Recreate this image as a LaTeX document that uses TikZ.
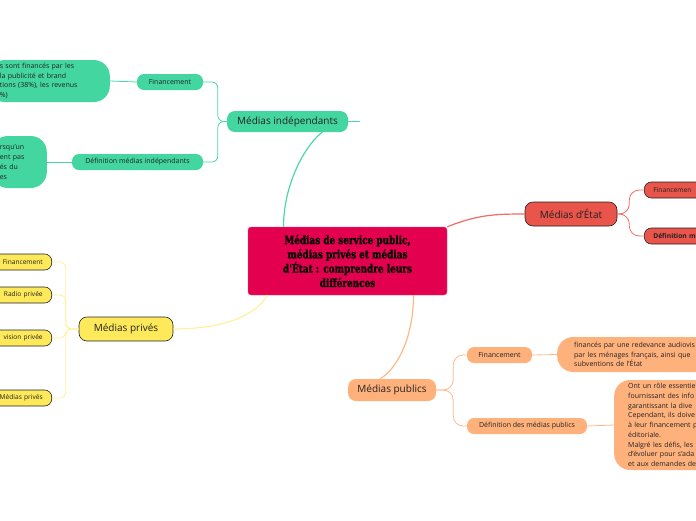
\documentclass[tikz,border=0pt]{standalone}
\usepackage{fontspec}
\setmainfont{Open Sans}
\newfontfamily\titlefont[FakeStretch=0.86, FakeBold=0.8]{DejaVu Serif Condensed}
\definecolor{tealf}{HTML}{43D6A0}
\definecolor{teall}{HTML}{4AD8A4}
\definecolor{yelf}{HTML}{FEE95B}
\definecolor{yell}{HTML}{FFF0A0}
\definecolor{redf}{HTML}{E9544B}
\definecolor{redl}{HTML}{F26A63}
\definecolor{peaf}{HTML}{FFB17C}
\definecolor{peal}{HTML}{FFB888}
\definecolor{crim}{HTML}{E2004F}
\definecolor{ink}{HTML}{222222}
\begin{document}
\begin{tikzpicture}[x=1pt,y=-1pt,
  central/.style={fill=crim, draw=crim!70!white, rounded corners=3pt, minimum width=199pt, minimum height=68pt, align=center, text=black, font=\titlefont\bfseries\fontsize{11.5}{14.3}\selectfont, inner sep=0pt},
  mainbox/.style={rounded corners=8pt, inner sep=0pt, text=ink, font=\fontsize{10}{12}\selectfont},
  subbox/.style={rounded corners=7pt, inner sep=0pt, minimum height=16pt, text=ink, font=\fontsize{7}{8.5}\selectfont},
  ysub/.style={subbox, fill=yelf, bord, anchor=east, minimum width=70pt, text width=52pt, align=right, inner xsep=9pt, font=\fontsize{6.6}{8.5}\selectfont},
  rsub/.style={subbox, fill=redf, bord, anchor=west, minimum width=80pt, text width=62pt, align=left, inner xsep=9pt, font=\fontsize{6.7}{8.5}\selectfont},
  txtbox/.style={rounded corners=16pt, align=left, text=ink, font=\fontsize{7}{9.7}\selectfont},
  bord/.style={draw=ink, line width=0.6pt},
  thick1/.style={line width=1.2pt},
  thin1/.style={line width=0.8pt}]
\useasboundingbox (0,0) rectangle (696,520);
\clip (0,0) rectangle (696,520);

% central
\node[central] (c) at (347.5,261) {Médias de service public,\\médias privés et médias\\d'État : comprendre leurs\\différences};

% teal branch
\node[mainbox, fill=tealf, minimum width=121pt, minimum height=21pt] (mi) at (287.5,121.5) {Médias indépendants};
\node[subbox, fill=tealf, minimum width=66pt] (fi) at (170,82) {Financement};
\node[subbox, fill=tealf, minimum width=131pt] (di) at (137.5,162) {Définition médias indépendants};
\node[txtbox, fill=tealf, anchor=east, minimum height=42pt, inner xsep=11pt, inner ysep=0pt, text width=99pt] (t1) at (110,81) {s sont financés par les\\la publicité et brand\\tions (38\%), les revenus\\\%)};
\node[txtbox, fill=tealf, anchor=east, minimum height=52pt, inner xsep=8pt, inner ysep=0pt, text width=39pt] (t2) at (47,162) {rsqu'un\\ent pas\\és du\\es};
\coordinate (mistub) at (360,121.5);

% yellow branch
\node[mainbox, fill=yelf, bord, minimum width=94pt, minimum height=24pt] (mp) at (126,329) {Médias privés};
\node[ysub] (y1) at (52,262) {Financement};
\node[ysub] (y2) at (52,295) {Radio privée};
\node[ysub] (y3) at (52,338) {vision privée};
\node[ysub] (y4) at (52,398) {Médias privés};

% red branch
\node[mainbox, fill=redf, bord, minimum width=92pt, minimum height=24pt] (me) at (571,214) {Médias d'État};
\node[rsub] (r1) at (644,190) {Financemen};
\node[rsub] (r2) at (644,236) {\textbf{Définition m}};

% peach branch
\node[mainbox, fill=peaf, minimum width=88pt, minimum height=22pt] (mpub) at (392,390) {Médias publics};
\node[subbox, fill=peaf, minimum width=65pt] (pf) at (499.5,355) {Financement};
\node[subbox, fill=peaf, minimum width=120pt] (pd) at (527,426) {Définition des médias publics};
\node[txtbox, fill=peaf, anchor=west, minimum height=35pt, inner xsep=17pt, inner ysep=0pt, text width=160pt] (pt1) at (557,354.5) {financés par une redevance audiovis\\par les ménages français, ainsi que\\subventions de l'État};
\node[txtbox, fill=peaf, anchor=west, minimum height=90pt, inner xsep=14pt, inner ysep=0pt, text width=120pt] (pt2) at (614,425) {Ont un rôle essentie\\fournissant des info\\garantissant la dive\\Cependant, ils doive\\à leur financement p\\éditoriale.\\Malgré les défis, les\\d'évoluer pour s'ada\\et aux demandes de};

% main connectors
\draw[teall, thick1] ([xshift=-64pt]c.north) .. controls +(0,-45) and +(-15,10) .. ([xshift=35pt]mi.south);
\draw[yell, thick1] ([xshift=-80pt]c.south) .. controls +(-15,25) and +(40,0) .. (mp.east);
\draw[redl, thick1] (c.north east) .. controls +(30,-12) and +(-30,0) .. (me.west);
\draw[peal, thick1] ([xshift=66pt]c.south) .. controls +(0,45) and +(15,-8) .. ([xshift=-12pt]mpub.north);

% sub connectors
\draw[teall, thin1, rounded corners=6pt] (mi.west) -- ++(-9,0) |- (fi.east);
\draw[teall, thin1, rounded corners=6pt] (mi.west) -- ++(-9,0) |- (di.east);
\draw[teall, thin1] (fi.west) -- (t1.east);
\draw[teall, thin1] (di.west) -- (t2.east);
\draw[teall, thick1] (mi.east) -- (mistub);

\foreach \n in {y1,y2,y3,y4}{
  \draw[yell, thin1, rounded corners=6pt] (mp.west) -- ++(-13,0) |- (\n.east);
}
\foreach \n in {r1,r2}{
  \draw[redl, thin1, rounded corners=10pt] (me.east) -- ++(12,0) |- (\n.west);
}
\draw[peal, thin1, rounded corners=10pt] (mpub.east) -- ++(17,0) |- (pf.west);
\draw[peal, thin1, rounded corners=10pt] (mpub.east) -- ++(17,0) |- (pd.west);
\draw[peal, thin1] (pf.east) -- (pt1.west);
\draw[peal, thin1] (pd.east) -- (pt2.west);
\end{tikzpicture}
\end{document}
